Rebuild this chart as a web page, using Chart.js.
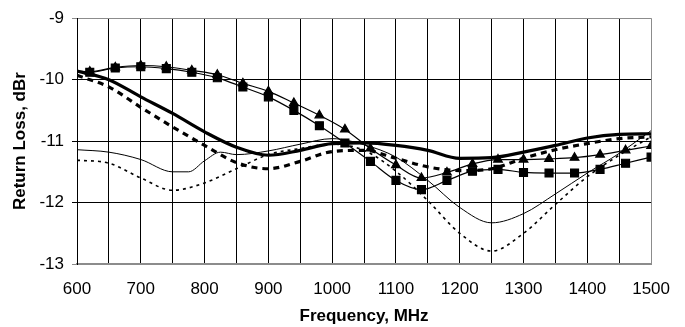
<!DOCTYPE html>
<html>
<head>
<meta charset="utf-8">
<script src="https://cdn.jsdelivr.net/npm/chart.js@4.4.1/dist/chart.umd.min.js"></script>
<style>
  html, body { margin: 0; padding: 0; background: #fff; }
  #wrap { width: 685px; height: 327px; }
</style>
</head>
<body>
<div id="wrap"><canvas id="chart" width="685" height="327"></canvas></div>
<script>
// frequencies (MHz) sampled every 50
const freqs = [600, 650, 700, 750, 800, 850, 900, 950, 1000, 1050, 1100, 1150, 1200, 1250, 1300, 1350, 1400, 1450, 1500];
const thickSolid = [-9.86, -10.0, -10.28, -10.55, -10.85, -11.1, -11.23, -11.15, -11.04, -11.03, -11.07, -11.15, -11.28, -11.27, -11.18, -11.07, -10.95, -10.89, -10.88];
const thickDashed = [-9.93, -10.12, -10.45, -10.77, -11.07, -11.35, -11.45, -11.33, -11.17, -11.15, -11.28, -11.42, -11.48, -11.45, -11.28, -11.14, -11.04, -10.96, -10.93];
const dotted = [-11.31, -11.36, -11.6, -11.8, -11.68, -11.45, -11.22, -11.12, -11.05, -11.15, -11.49, -11.97, -12.5, -12.79, -12.5, -12.03, -11.58, -11.23, -10.93];

// thin solid curve has a bump near 800 MHz
const thinFreqs = [600, 650, 700, 750, 775, 800, 825, 850, 900, 950, 1000, 1050, 1100, 1150, 1200, 1250, 1300, 1350, 1400, 1450, 1500];
const thinSolid = [-11.14, -11.18, -11.3, -11.5, -11.5, -11.32, -11.18, -11.22, -11.16, -11.05, -10.96, -11.06, -11.26, -11.64, -12.08, -12.33, -12.18, -11.86, -11.52, -11.2, -10.83];

// marker curves, markers every 40 MHz from 620
const markerFreqs = [600, 620, 660, 700, 740, 780, 820, 860, 900, 940, 980, 1020, 1060, 1100, 1140, 1180, 1220, 1260, 1300, 1340, 1380, 1420, 1460, 1500];
const squares = [-9.87, -9.88, -9.81, -9.79, -9.82, -9.88, -9.97, -10.12, -10.28, -10.5, -10.75, -11.03, -11.33, -11.64, -11.79, -11.64, -11.49, -11.46, -11.51, -11.52, -11.52, -11.46, -11.36, -11.26];
const triangles = [-9.86, -9.87, -9.8, -9.77, -9.79, -9.85, -9.92, -10.06, -10.19, -10.38, -10.58, -10.81, -11.12, -11.39, -11.6, -11.51, -11.37, -11.3, -11.3, -11.29, -11.27, -11.22, -11.15, -11.08];

const xTicks = [600, 700, 800, 900, 1000, 1100, 1200, 1300, 1400, 1500];

const pts = (xs, ys) => xs.map((x, i) => ({x: x, y: ys[i]}));
const FONT = "'Liberation Sans', Arial, sans-serif";
const GRAY = '#8c8c8c';

const base = {
  fill: false,
  borderColor: '#000',
  backgroundColor: '#000',
  pointRadius: 0,
  cubicInterpolationMode: 'monotone'
};

new Chart(document.getElementById('chart'), {
  type: 'line',
  data: {
    datasets: [
      {...base, label: 'thick', data: pts(freqs, thickSolid), borderWidth: 3.2},
      {...base, label: 'dashed', data: pts(freqs, thickDashed), borderWidth: 3.2, borderDash: [6, 5]},
      {...base, label: 'triangles', data: pts(markerFreqs, triangles), borderWidth: 1.2,
        pointStyle: 'triangle', pointRadius: c => c.raw && c.raw.x === 600 ? 0 : 5},
      {...base, label: 'squares', data: pts(markerFreqs, squares), borderWidth: 1.2,
        pointStyle: 'rect', pointRadius: c => c.raw && c.raw.x === 600 ? 0 : 5.6},
      {...base, label: 'thin', data: pts(thinFreqs, thinSolid), borderWidth: 1},
      {...base, label: 'dotted', data: pts(freqs, dotted), borderWidth: 1.6, borderDash: [3, 4]}
    ]
  },
  options: {
    responsive: false,
    animation: false,
    layout: {padding: {top: 12, right: 32, left: 0, bottom: 0}},
    scales: {
      x: {
        type: 'linear',
        min: 600,
        max: 1500,
        afterFit: s => { s.height = 63; },
        afterBuildTicks: s => {
          s.ticks = [];
          for (let v = 600; v <= 1500; v += 50) s.ticks.push({value: v});
        },
        ticks: {
          autoSkip: false,
          maxRotation: 0,
          padding: 15,
          color: '#000',
          font: {family: FONT, size: 17},
          callback: v => xTicks.includes(v) ? String(v) : ''
        },
        grid: {
          color: c => c.tick && c.tick.value === 1500 ? GRAY : '#000',
          lineWidth: 1,
          drawTicks: false
        },
        border: {color: GRAY, width: 2},
        title: {
          display: true,
          text: 'Frequency, MHz',
          color: '#000',
          font: {family: FONT, size: 17, weight: 'bold'},
          padding: {top: 0, bottom: 0}
        }
      },
      y: {
        min: -13,
        max: -9,
        afterFit: s => { s.width = 77; },
        ticks: {
          stepSize: 1,
          padding: 8,
          color: '#000',
          font: {family: FONT, size: 17}
        },
        grid: {
          color: c => c.tick && (c.tick.value === -9 || c.tick.value === -13) ? GRAY : '#000',
          lineWidth: 1,
          tickLength: 5
        },
        border: {color: '#000', width: 1},
        title: {
          display: true,
          text: 'Return Loss, dBr',
          color: '#000',
          font: {family: FONT, size: 17, weight: 'bold'},
          padding: {top: 10, bottom: 0}
        }
      }
    },
    plugins: {
      legend: {display: false},
      tooltip: {enabled: false}
    }
  }
});
</script>
</body>
</html>
